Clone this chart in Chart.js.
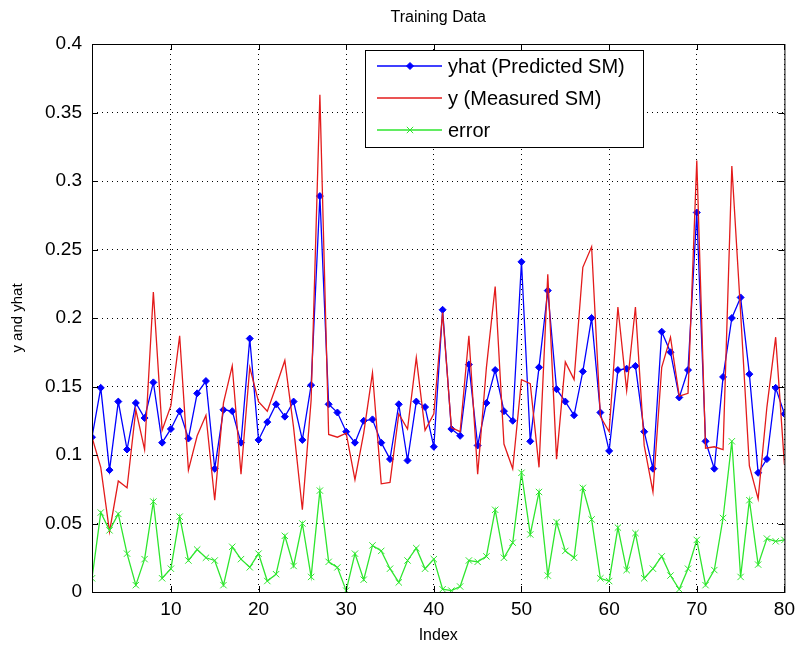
<!DOCTYPE html>
<html>
<head>
<meta charset="utf-8">
<title>Training Data</title>
<script src="https://cdn.jsdelivr.net/npm/chart.js@4.4.0/dist/chart.umd.min.js"></script>
<style>
  html, body { margin: 0; padding: 0; background: #fff; }
  #wrap { width: 801px; height: 651px; }
</style>
</head>
<body>
<div id="wrap"><canvas id="chart"></canvas></div>
<script>
const indices = [
  1, 2, 3, 4, 5, 6, 7, 8, 9, 10, 11, 12, 13, 14, 15, 16, 17, 18, 19, 20,
  21, 22, 23, 24, 25, 26, 27, 28, 29, 30, 31, 32, 33, 34, 35, 36, 37, 38, 39, 40,
  41, 42, 43, 44, 45, 46, 47, 48, 49, 50, 51, 52, 53, 54, 55, 56, 57, 58, 59, 60,
  61, 62, 63, 64, 65, 66, 67, 68, 69, 70, 71, 72, 73, 74, 75, 76, 77, 78, 79, 80
];

const yhatPredicted = [
  0.113, 0.149, 0.089, 0.139, 0.104, 0.138, 0.127, 0.153, 0.109, 0.119,
  0.132, 0.112, 0.145, 0.154, 0.090, 0.133, 0.132, 0.109, 0.185, 0.111,
  0.124, 0.137, 0.128, 0.139, 0.111, 0.151, 0.289, 0.137, 0.131, 0.117,
  0.109, 0.125, 0.126, 0.109, 0.097, 0.137, 0.096, 0.139, 0.135, 0.106,
  0.206, 0.119, 0.114, 0.166, 0.107, 0.138, 0.162, 0.132, 0.125, 0.241,
  0.110, 0.164, 0.220, 0.148, 0.139, 0.129, 0.161, 0.200, 0.131, 0.103,
  0.162, 0.163, 0.165, 0.117, 0.090, 0.190, 0.175, 0.142, 0.162, 0.277,
  0.110, 0.090, 0.157, 0.200, 0.215, 0.159, 0.087, 0.097, 0.149, 0.130
];

const yMeasured = [
  0.113, 0.091, 0.044, 0.081, 0.076, 0.133, 0.104, 0.219, 0.118, 0.136,
  0.187, 0.089, 0.114, 0.129, 0.067, 0.138, 0.165, 0.086, 0.164, 0.139,
  0.132, 0.150, 0.169, 0.120, 0.060, 0.140, 0.363, 0.115, 0.113, 0.116,
  0.082, 0.116, 0.160, 0.079, 0.080, 0.130, 0.119, 0.171, 0.118, 0.130,
  0.204, 0.120, 0.117, 0.187, 0.086, 0.164, 0.223, 0.108, 0.090, 0.155,
  0.152, 0.091, 0.232, 0.097, 0.168, 0.155, 0.237, 0.252, 0.128, 0.117,
  0.208, 0.147, 0.208, 0.107, 0.073, 0.164, 0.186, 0.143, 0.145, 0.315,
  0.105, 0.106, 0.104, 0.311, 0.204, 0.092, 0.068, 0.135, 0.186, 0.093
];

const errorValues = [
  0.010, 0.058, 0.045, 0.057, 0.028, 0.005, 0.024, 0.066, 0.010, 0.017,
  0.055, 0.023, 0.031, 0.025, 0.023, 0.005, 0.033, 0.024, 0.018, 0.028,
  0.008, 0.013, 0.041, 0.019, 0.050, 0.011, 0.074, 0.022, 0.018, 0.001,
  0.028, 0.009, 0.034, 0.030, 0.017, 0.007, 0.023, 0.032, 0.017, 0.024,
  0.002, 0.001, 0.004, 0.023, 0.022, 0.026, 0.060, 0.025, 0.036, 0.087,
  0.042, 0.073, 0.012, 0.051, 0.030, 0.025, 0.076, 0.053, 0.010, 0.008,
  0.047, 0.016, 0.043, 0.010, 0.017, 0.026, 0.012, 0.002, 0.017, 0.038,
  0.005, 0.016, 0.054, 0.110, 0.011, 0.067, 0.020, 0.039, 0.037, 0.038
];

const xTicks = [10, 20, 30, 40, 50, 60, 70, 80];
const yTicks = [0, 0.05, 0.1, 0.15, 0.2, 0.25, 0.3, 0.35, 0.4];
const yTickLabels = ["0", "0.05", "0.1", "0.15", "0.2", "0.25", "0.3", "0.35", "0.4"];

const FONT = "Arial, 'Liberation Sans', Helvetica, sans-serif";

function toPoints(values) {
  return values.map((v, i) => ({ x: indices[i], y: v }));
}

// MATLAB-style box around the axes with inward tick marks on all sides
const axesBox = {
  id: "axesBox",
  afterDatasetsDraw(chart) {
    const { ctx, chartArea: a, scales } = chart;
    ctx.save();
    ctx.strokeStyle = "#000";
    ctx.lineWidth = 1;
    ctx.strokeRect(a.left + 0.5, a.top + 0.5, a.right - a.left, a.bottom - a.top);
    ctx.beginPath();
    xTicks.forEach((v) => {
      const px = Math.round(scales.x.getPixelForValue(v)) + 0.5;
      ctx.moveTo(px, a.bottom);
      ctx.lineTo(px, a.bottom - 6);
      ctx.moveTo(px, a.top);
      ctx.lineTo(px, a.top + 6);
    });
    yTicks.forEach((v) => {
      const py = Math.round(scales.y.getPixelForValue(v)) + 0.5;
      ctx.moveTo(a.left, py);
      ctx.lineTo(a.left + 6, py);
      ctx.moveTo(a.right, py);
      ctx.lineTo(a.right - 6, py);
    });
    ctx.stroke();
    ctx.restore();
  },
};

// legend box drawn inside the plot, top centre, like MATLAB's legend
const insideLegend = {
  id: "insideLegend",
  afterDraw(chart) {
    const ctx = chart.ctx;
    const box = { left: 365, top: 50, right: 643, bottom: 147 };
    ctx.save();
    ctx.fillStyle = "#fff";
    ctx.fillRect(box.left, box.top, box.right - box.left, box.bottom - box.top);
    ctx.strokeStyle = "#000";
    ctx.lineWidth = 1;
    ctx.strokeRect(box.left + 0.5, box.top + 0.5, box.right - box.left, box.bottom - box.top);

    chart.data.datasets.forEach((ds, i) => {
      const cy = 66 + i * 32;
      ctx.strokeStyle = ds.borderColor;
      ctx.lineWidth = ds.borderWidth;
      ctx.beginPath();
      ctx.moveTo(377, cy);
      ctx.lineTo(442, cy);
      ctx.stroke();
      if (ds.pointRadius > 0) {
        ctx.fillStyle = ds.backgroundColor;
        ctx.lineWidth = ds.pointBorderWidth;
        Chart.helpers.drawPoint(ctx, {
          pointStyle: ds.pointStyle,
          radius: ds.pointRadius,
          rotation: 0,
          borderWidth: ds.pointBorderWidth,
        }, 410, cy);
      }
      ctx.fillStyle = "#000";
      ctx.font = "20px " + FONT;
      ctx.textAlign = "left";
      ctx.textBaseline = "middle";
      ctx.fillText(ds.label, 448, cy + 1);
    });
    ctx.restore();
  },
};

const ctx = document.getElementById("chart").getContext("2d");
new Chart(ctx, {
  type: "line",
  data: {
    datasets: [
      {
        label: "yhat (Predicted SM)",
        data: toPoints(yhatPredicted),
        borderColor: "#0000ff",
        backgroundColor: "#0000ff",
        borderWidth: 1.3,
        pointStyle: "rectRot",
        pointRadius: 3.5,
        pointBorderWidth: 1,
        tension: 0,
        order: 2,
      },
      {
        label: "y (Measured SM)",
        data: toPoints(yMeasured),
        borderColor: "#e31b1b",
        backgroundColor: "#e31b1b",
        borderWidth: 1.3,
        pointRadius: 0,
        tension: 0,
        order: 1,
      },
      {
        label: "error",
        data: toPoints(errorValues),
        borderColor: "#2ee62e",
        backgroundColor: "#2ee62e",
        borderWidth: 1.3,
        pointStyle: "crossRot",
        pointRadius: 4.5,
        pointBorderWidth: 1,
        tension: 0,
        order: 0,
      },
    ],
  },
  options: {
    responsive: true,
    maintainAspectRatio: false,
    animation: false,
    layout: { padding: { left: 0, right: 12, top: 0, bottom: 0 } },
    plugins: {
      legend: { display: false },
      tooltip: { enabled: false },
      title: {
        display: true,
        fullSize: false,
        text: "Training Data",
        color: "#000",
        font: { family: FONT, size: 16, weight: "normal", lineHeight: 1.2 },
        padding: { top: 8, bottom: 16.8 },
      },
    },
    scales: {
      x: {
        type: "linear",
        min: 1,
        max: 80,
        afterBuildTicks: (scale) => {
          scale.ticks = xTicks.map((v) => ({ value: v }));
        },
        afterFit: (scale) => {
          scale.height = 59;
        },
        grid: { color: "#000", lineWidth: 1, drawTicks: false },
        border: { display: false, dash: [1, 4] },
        ticks: {
          color: "#000",
          padding: 6,
          maxRotation: 0,
          font: { family: FONT, size: 19 },
        },
        title: {
          display: true,
          text: "Index",
          color: "#000",
          font: { family: FONT, size: 16, lineHeight: 1.2 },
          padding: { top: 0, bottom: 6 },
        },
      },
      y: {
        type: "linear",
        min: 0,
        max: 0.4,
        afterBuildTicks: (scale) => {
          scale.ticks = yTicks.map((v) => ({ value: v }));
        },
        afterFit: (scale) => {
          scale.width = 92;
        },
        grid: { color: "#000", lineWidth: 1, drawTicks: false },
        border: { display: false, dash: [1, 4] },
        ticks: {
          color: "#000",
          padding: 10,
          font: { family: FONT, size: 19 },
          callback: (value, index) => yTickLabels[index],
        },
        title: {
          display: true,
          text: "y and yhat",
          color: "#000",
          font: { family: FONT, size: 15, lineHeight: 1.2 },
          padding: { top: 9, bottom: 0 },
        },
      },
    },
  },
  plugins: [axesBox, insideLegend],
});
</script>
</body>
</html>
